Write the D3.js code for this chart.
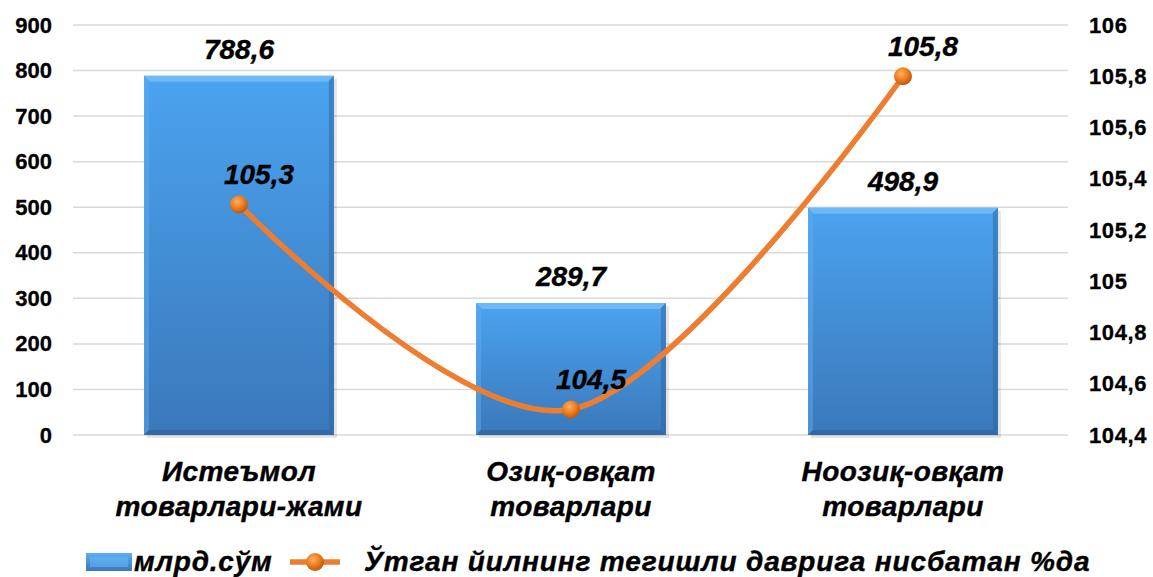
<!DOCTYPE html>
<html><head><meta charset="utf-8">
<script src="https://cdn.jsdelivr.net/npm/d3@7/dist/d3.min.js"></script>
<style>
html,body{margin:0;padding:0;background:#fff;}
svg{display:block;font-family:"Liberation Sans",Arial,sans-serif;}
</style></head>
<body>
<svg id="chart" width="1153" height="577"></svg>
<script>
const categories = [["Истеъмол","товарлари-жами"],["Озиқ-овқат","товарлари"],["Ноозиқ-овқат","товарлари"]];
const barValues = [788.6, 289.7, 498.9];
const lineValues = [105.3, 104.5, 105.8];
const leftTicks = [0,100,200,300,400,500,600,700,800,900];
const rightTicks = [104.4,104.6,104.8,105,105.2,105.4,105.6,105.8,106];
const legendLabels = ["млрд.сўм","Ўтган йилнинг тегишли даврига нисбатан %да"];

const fmt = v => String(v).replace(".", ",");
const svg = d3.select("#chart");
const defs = svg.append("defs");

const bg = defs.append("linearGradient").attr("id","barGrad").attr("x1",0).attr("y1",0).attr("x2",0).attr("y2",1);
bg.append("stop").attr("offset","0%").attr("stop-color","#4ba3ef");
bg.append("stop").attr("offset","100%").attr("stop-color","#3a78bb");
const lg = defs.append("linearGradient").attr("id","legGrad").attr("x1",0).attr("y1",0).attr("x2",0).attr("y2",1);
lg.append("stop").attr("offset","0%").attr("stop-color","#5aaef5");
lg.append("stop").attr("offset","100%").attr("stop-color","#3a78bb");
const mg = defs.append("radialGradient").attr("id","mkGrad").attr("cx","40%").attr("cy","35%").attr("r","65%");
mg.append("stop").attr("offset","0%").attr("stop-color","#ffb066");
mg.append("stop").attr("offset","55%").attr("stop-color","#f07d20");
mg.append("stop").attr("offset","100%").attr("stop-color","#b85a10");

const x0 = 73, x1 = 1069, yTop = 25, yBot = 435;
const x = d3.scaleBand().domain(d3.range(categories.length)).range([x0,x1]).paddingInner(0.428).paddingOuter(0.214);
const yL = d3.scaleLinear().domain([0,900]).range([yBot,yTop]);
const yR = d3.scaleLinear().domain([104.4,106]).range([yBot,yTop]);

// gridlines
svg.append("g").selectAll("line").data(leftTicks).join("line")
  .attr("x1",x0).attr("x2",x1-1).attr("y1",d=>yL(d)).attr("y2",d=>yL(d))
  .attr("stroke","#d9d9d9").attr("stroke-width",1.5);

const tickFont = sel => sel.attr("font-size",22).attr("font-weight","bold").attr("fill","#000")
  .attr("font-family","Liberation Sans, Arial, sans-serif").attr("stroke","#000").attr("stroke-width",0.3);

// left axis
const axL = svg.append("g").attr("transform",`translate(${x0},0)`)
  .call(d3.axisLeft(yL).tickValues(leftTicks).tickSize(0).tickPadding(21).tickFormat(d=>d));
axL.select(".domain").remove();
axL.selectAll("text").call(tickFont);

// right axis
const axR = svg.append("g").attr("transform",`translate(${x1},0)`)
  .call(d3.axisRight(yR).tickValues(rightTicks).tickSize(0).tickPadding(20).tickFormat(d=>fmt(+d.toFixed(1))));
axR.select(".domain").remove();
axR.selectAll("text").call(tickFont).attr("letter-spacing",0.6);

// bars
const bars = svg.append("g").selectAll("g").data(barValues).join("g");
bars.append("rect").attr("x",(d,i)=>x(i)+3).attr("y",d=>yL(d)+3).attr("width",x.bandwidth()).attr("height",d=>yBot-yL(d))
  .attr("fill","rgba(0,0,0,0.10)");
bars.append("rect").attr("x",(d,i)=>x(i)).attr("y",d=>yL(d)).attr("width",x.bandwidth()).attr("height",d=>yBot-yL(d))
  .attr("fill","url(#barGrad)");
// bevel edges
bars.append("path").attr("d",(d,i)=>{const a=x(i),b=a+x.bandwidth(),t=yL(d),e=6;return `M${a},${t}L${b},${t}L${b-e},${t+e}L${a+e},${t+e}Z`;}).attr("fill","#7cc3fb").attr("opacity",0.7);
bars.append("path").attr("d",(d,i)=>{const a=x(i),t=yL(d),e=5;return `M${a},${t}L${a+e},${t+e}L${a+e},${yBot-e}L${a},${yBot}Z`;}).attr("fill","#5fb0f3").attr("opacity",0.45);
bars.append("path").attr("d",(d,i)=>{const b=x(i)+x.bandwidth(),t=yL(d),e=5;return `M${b},${t}L${b-e},${t+e}L${b-e},${yBot-e}L${b},${yBot}Z`;}).attr("fill","#2e64a0").attr("opacity",0.5);
bars.append("path").attr("d",(d,i)=>{const a=x(i),b=a+x.bandwidth(),e=5;return `M${a},${yBot}L${a+e},${yBot-e}L${b-e},${yBot-e}L${b},${yBot}Z`;}).attr("fill","#2d5f98").attr("opacity",0.6);

const bigFont = sel => sel.attr("font-weight","bold").attr("font-style","italic").attr("fill","#000")
  .attr("stroke","#000").attr("stroke-width",0.4);

// bar labels
svg.append("g").selectAll("text").data(barValues).join("text")
  .attr("x",(d,i)=>x(i)+x.bandwidth()/2).attr("y",d=>yL(d)-17)
  .attr("text-anchor","middle").attr("font-size",28).call(bigFont)
  .text(d=>fmt(d));

// line
const cx = i => x(i)+x.bandwidth()/2;
const line = d3.line().x((d,i)=>cx(i)).y(d=>yR(d)).curve(d3.curveCardinal.tension(0));
svg.append("path").datum(lineValues).attr("d",line).attr("fill","none").attr("stroke","#ed7d31").attr("stroke-width",5.5);
svg.append("g").selectAll("circle").data(lineValues).join("circle")
  .attr("cx",(d,i)=>cx(i)).attr("cy",d=>yR(d)).attr("r",9).attr("fill","url(#mkGrad)");
svg.append("g").selectAll("text").data(lineValues).join("text")
  .attr("x",(d,i)=>cx(i)+20).attr("y",d=>yR(d)-20)
  .attr("text-anchor","middle").attr("font-size",28).call(bigFont)
  .text(d=>fmt(d));

// category labels
const cat = svg.append("g").selectAll("text").data(categories).join("text")
  .attr("x",(d,i)=>cx(i)).attr("y",481).attr("text-anchor","middle")
  .attr("font-size",28).attr("letter-spacing",0.4).call(bigFont);
cat.selectAll("tspan").data(d=>d).join("tspan").attr("x",function(){return this.parentNode.getAttribute("x");})
  .attr("dy",(d,j)=>j?35:0).text(d=>d);

// legend
const leg = svg.append("g");
leg.append("rect").attr("x",86).attr("y",553).attr("width",46).attr("height",18).attr("fill","url(#legGrad)");
leg.append("rect").attr("x",90).attr("y",557).attr("width",38).attr("height",10).attr("fill","#6ab9f7").attr("opacity",0.5);
leg.append("text").attr("x",134).attr("y",571).attr("font-size",28).attr("letter-spacing",0.8).call(bigFont).text(legendLabels[0]);
leg.append("line").attr("x1",290).attr("x2",340).attr("y1",562).attr("y2",562).attr("stroke","#ed7d31").attr("stroke-width",5.5);
leg.append("circle").attr("cx",315).attr("cy",562).attr("r",9).attr("fill","url(#mkGrad)");
leg.append("text").attr("x",364).attr("y",571).attr("font-size",28).attr("letter-spacing",0.85).call(bigFont).text(legendLabels[1]);
</script>
</body></html>
